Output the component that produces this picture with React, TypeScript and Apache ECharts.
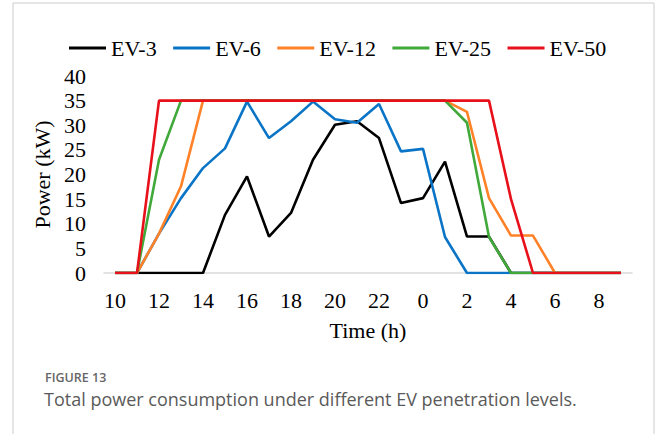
import React, { useEffect, useRef } from "react";
import * as echarts from "echarts";

const hours = ["10","11","12","13","14","15","16","17","18","19","20","21","22","23","0","1","2","3","4","5","6","7","8","9"];
const seriesNames = ["EV-3", "EV-6", "EV-12", "EV-25", "EV-50"];
const ev3 = [0,0,0,0,0,11.8,19.6,7.4,12.2,23,30.1,30.8,27.4,14.2,15.2,22.6,7.4,7.4,0,0,0,0,0,0];
const ev6 = [0,0,8,15.2,21.3,25.3,34.8,27.4,30.8,34.8,31.2,30.5,34.3,24.7,25.2,7.3,0,0,0,0,0,0,0,0];
const ev12 = [0,0,8,17.6,35,35,35,35,35,35,35,35,35,35,35,35,32.7,15.2,7.6,7.6,0,0,0,0];
const ev25 = [0,0,23,35,35,35,35,35,35,35,35,35,35,35,35,35,30.5,7.3,0,0,0,0,0,0];
const ev50 = [0,0,35,35,35,35,35,35,35,35,35,35,35,35,35,35,35,35,15,0,0,0,0,0];
const colors = ["#000000", "#0A74C6", "#FF8229", "#41A83A", "#E8101A"];
const yTicks = { min: 0, max: 40, interval: 5 };
const xTitle = "Time (h)";
const yTitle = "Power (kW)";
const figLabel = "FIGURE 13";
const caption = "Total power consumption under different EV penetration levels.";

export default function App() {
  const ref = useRef<HTMLDivElement>(null);
  useEffect(() => {
    if (!ref.current) return;
    const chart = echarts.init(ref.current, null, { renderer: "svg" });
    const serif = "'Liberation Serif', 'Times New Roman', serif";
    const data = [ev3, ev6, ev12, ev25, ev50];
    chart.setOption({
      animation: false,
      backgroundColor: "#ffffff",
      color: colors,
      textStyle: { fontFamily: serif },
      legend: {
        left: 64,
        top: 32,
        icon: "rect",
        itemWidth: 37,
        itemHeight: 3,
        itemGap: 16.5,
        data: seriesNames,
        textStyle: { fontFamily: serif, fontSize: 22, color: "#000" },
      },
      grid: { left: 104, right: 24, top: 76, bottom: 161 },
      xAxis: {
        type: "category",
        data: hours,
        boundaryGap: true,
        name: xTitle,
        nameLocation: "middle",
        nameGap: 46,
        nameTextStyle: { fontFamily: serif, fontSize: 22, color: "#000" },
        axisLine: { lineStyle: { color: "#d9d9d9", width: 1.5 } },
        axisTick: { show: false },
        axisLabel: { interval: 1, margin: 16, fontFamily: serif, fontSize: 22, color: "#000" },
        splitLine: { show: false },
      },
      yAxis: {
        type: "value",
        min: yTicks.min,
        max: yTicks.max,
        interval: yTicks.interval,
        name: yTitle,
        nameLocation: "middle",
        nameGap: 46,
        nameTextStyle: { fontFamily: serif, fontSize: 22, color: "#000" },
        axisLine: { show: false },
        axisTick: { show: false },
        axisLabel: { margin: 18, fontFamily: serif, fontSize: 22, color: "#000" },
        splitLine: { show: false },
      },
      series: seriesNames.map((n, i) => ({
        name: n,
        type: "line",
        data: data[i],
        symbol: "none",
        lineStyle: { width: 2.6, color: colors[i] },
        itemStyle: { color: colors[i] },
      })),
      graphic: [
        {
          type: "rect",
          shape: { x: 13, y: 3, width: 641, height: 450 },
          style: { fill: "none", stroke: "#cccccc", lineWidth: 1 },
          silent: true,
        },
        {
          type: "text",
          x: 45,
          y: 377,
          style: {
            text: figLabel,
            fontFamily: "'Open Sans', sans-serif",
            fontWeight: 600,
            fontSize: 12.5,
            fill: "#666666",
            verticalAlign: "middle",
          },
        },
        {
          type: "text",
          x: 44,
          y: 399,
          style: {
            text: caption,
            fontFamily: "'Open Sans', sans-serif",
            fontSize: 18,
            fill: "#5a5a5a",
            verticalAlign: "middle",
          },
        },
      ],
    });
    return () => chart.dispose();
  }, []);
  return (
    <div
      ref={ref}
      style={{ position: "fixed", left: 0, top: 0, width: 656, height: 434 }}
    />
  );
}
